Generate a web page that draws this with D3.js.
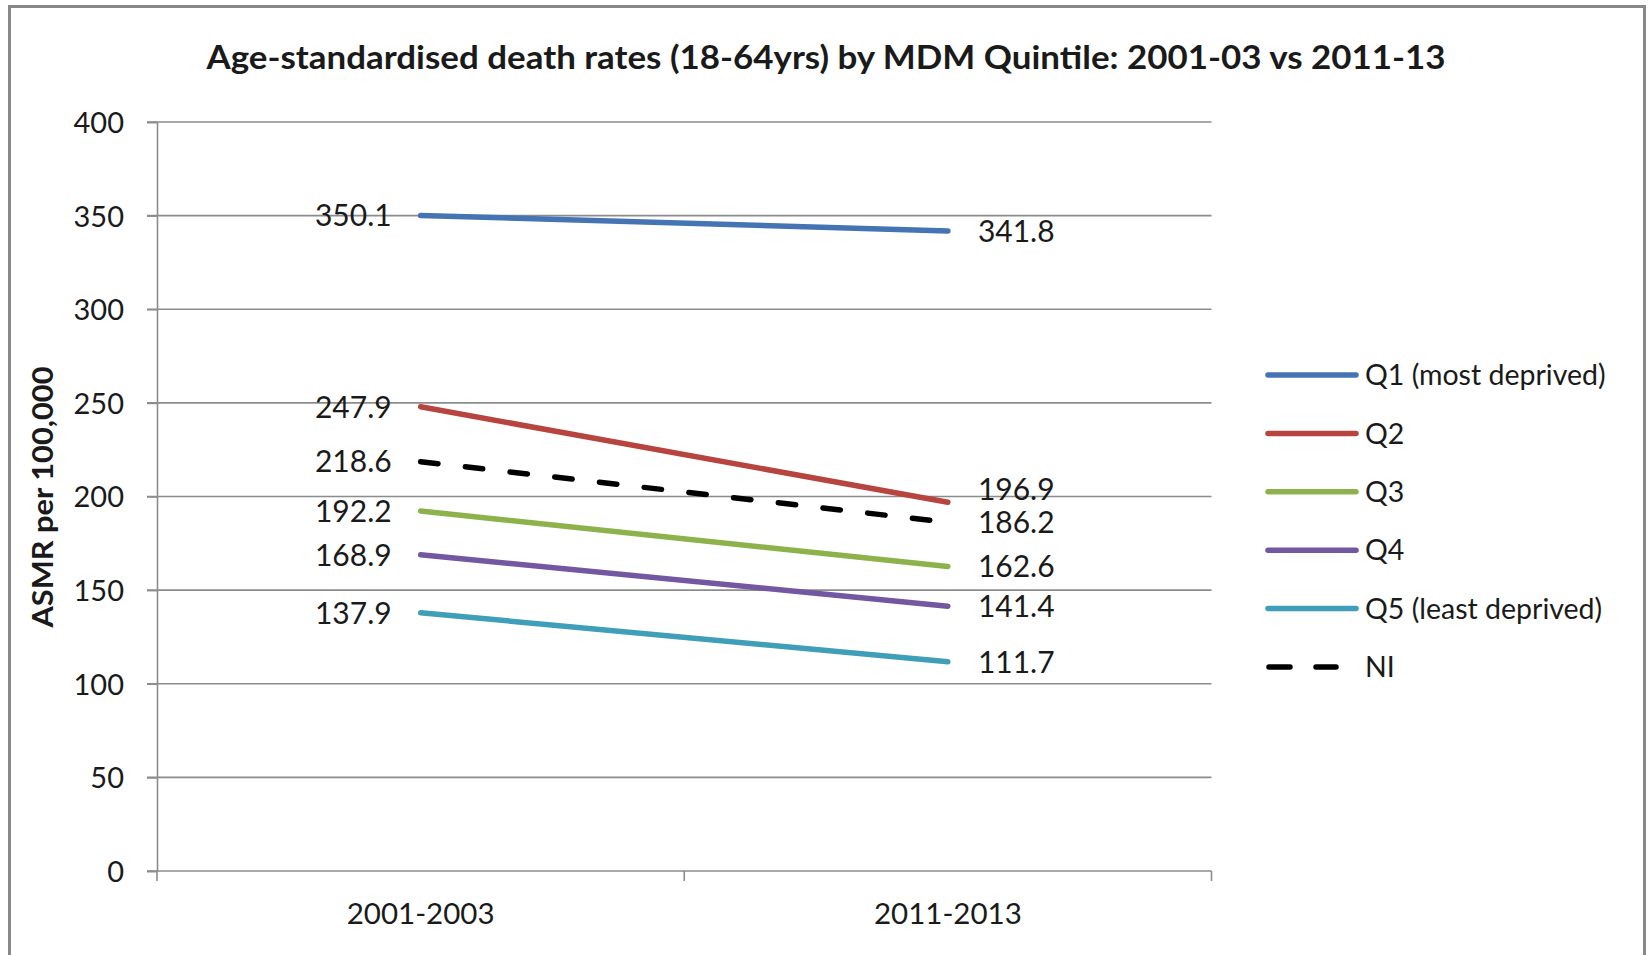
<!DOCTYPE html>
<html>
<head>
<meta charset="utf-8">
<script src="https://cdn.jsdelivr.net/npm/d3@7"></script>
<style>
  html, body { margin: 0; padding: 0; background: #fff; }
  svg { display: block; }
  text { font-family: Lato, "Open Sans", "Liberation Sans", sans-serif; fill: #1a1a1a; }
</style>
</head>
<body>
<svg id="chart" width="1649" height="955"></svg>
<script>
const title = "Age-standardised death rates (18-64yrs) by MDM Quintile: 2001-03 vs 2011-13";
const yAxisTitle = "ASMR per 100,000";
const periods = ["2001-2003", "2011-2013"];
const yTicks = [0, 50, 100, 150, 200, 250, 300, 350, 400];
const seriesNames = ["Q1 (most deprived)", "Q2", "Q3", "Q4", "Q5 (least deprived)", "NI"];
const q1 = [350.1, 341.8];
const q2 = [247.9, 196.9];
const q3 = [192.2, 162.6];
const q4 = [168.9, 141.4];
const q5 = [137.9, 111.7];
const ni = [218.6, 186.2];
const seriesColors = ["#4574B5", "#B7443F", "#8DB24B", "#7457A1", "#3F9EB8", "#000000"];
const seriesDashed = [false, false, false, false, false, true];

const series = [q1, q2, q3, q4, q5, ni].map((vals, i) => ({
  name: seriesNames[i], values: vals, color: seriesColors[i], dashed: seriesDashed[i]
}));

const svg = d3.select("#chart");
const plot = { left: 157, right: 1211.5, top: 122, bottom: 871 };

// outer frame
svg.append("rect")
  .attr("x", 9.5).attr("y", 6.5).attr("width", 1635).attr("height", 1000)
  .attr("fill", "#fff").attr("stroke", "#888").attr("stroke-width", 3);

const x = d3.scaleBand().domain(periods).range([plot.left, plot.right]).padding(0);
const cx = d => x(d) + x.bandwidth() / 2;
const y = d3.scaleLinear().domain([0, 400]).range([plot.bottom, plot.top]);

// gridlines
svg.append("g").selectAll("line").data(yTicks).join("line")
  .attr("x1", plot.left - 10).attr("x2", plot.right)
  .attr("y1", d => y(d)).attr("y2", d => y(d))
  .attr("stroke", "#8c8c8c").attr("stroke-width", 1.6);

// y axis
const yAxis = svg.append("g").attr("transform", `translate(${plot.left},0)`)
  .call(d3.axisLeft(y).tickValues(yTicks).tickSize(10).tickPadding(23).tickFormat(d3.format("d")));
yAxis.select(".domain").attr("stroke", "#8c8c8c").attr("stroke-width", 1.6);
yAxis.selectAll(".tick line").attr("stroke", "#8c8c8c").attr("stroke-width", 1.6);
yAxis.selectAll(".tick text").attr("font-size", 29).attr("fill", "#1a1a1a")
  .style("font-family", "Lato, 'Open Sans', sans-serif").attr("dy", "0.36em");

// x axis
const xAxis = svg.append("g").attr("transform", `translate(0,${plot.bottom})`)
  .call(d3.axisBottom(x).tickSize(0).tickPadding(32));
xAxis.select(".domain").remove();
xAxis.selectAll(".tick text").attr("font-size", 29.5).attr("fill", "#1a1a1a")
  .style("font-family", "Lato, 'Open Sans', sans-serif").attr("dy", "0.71em");
// x tick marks at category boundaries
const boundaries = periods.map(p => x(p)).concat([x(periods[periods.length - 1]) + x.bandwidth()]);
svg.append("g").selectAll("line").data(boundaries).join("line")
  .attr("x1", d => d).attr("x2", d => d)
  .attr("y1", plot.bottom).attr("y2", plot.bottom + 10)
  .attr("stroke", "#8c8c8c").attr("stroke-width", 1.6);

// lines
const line = d3.line().x((d, i) => cx(periods[i])).y(d => y(d));
svg.append("g").selectAll("path").data(series).join("path")
  .attr("d", d => line(d.values))
  .attr("fill", "none")
  .attr("stroke", d => d.color)
  .attr("stroke-width", 5.5)
  .attr("stroke-linecap", "round")
  .attr("stroke-dasharray", d => d.dashed ? "17.5,27.5" : null);

// data labels with simple vertical dodge
function placeLabels(idx, side) {
  const items = series.map(s => ({ v: s.values[idx], y: y(s.values[idx]) }))
    .sort((a, b) => a.y - b.y);
  const minGap = 33;
  for (let i = items.length - 2; i >= 0; i--) {
    if (items[i + 1].y - items[i].y < minGap) items[i].y = items[i + 1].y - minGap;
  }
  const px = cx(periods[idx]);
  svg.append("g").selectAll("text").data(items).join("text")
    .attr("x", side === "left" ? px - 29 : px + 30)
    .attr("y", d => d.y)
    .attr("dy", "0.36em")
    .attr("text-anchor", side === "left" ? "end" : "start")
    .attr("font-size", 30)
    .text(d => d.v.toFixed(1));
}
placeLabels(0, "left");
placeLabels(1, "right");

// title
svg.append("text")
  .attr("x", 826).attr("y", 69)
  .attr("text-anchor", "middle")
  .attr("font-size", 33).attr("font-weight", "bold")
  .attr("textLength", 1239).attr("lengthAdjust", "spacingAndGlyphs")
  .text(title);

// y axis title
svg.append("text")
  .attr("transform", "translate(43,497) rotate(-90)")
  .attr("text-anchor", "middle").attr("dy", "0.36em")
  .attr("font-size", 28).attr("font-weight", "bold")
  .attr("textLength", 261).attr("lengthAdjust", "spacingAndGlyphs")
  .text(yAxisTitle);

// legend
const legendY0 = 375, legendStep = 58.4;
const lg = svg.append("g").selectAll("g").data(series).join("g")
  .attr("transform", (d, i) => `translate(0,${legendY0 + i * legendStep})`);
lg.append("line")
  .attr("x1", d => d.dashed ? 1269 : 1268).attr("x2", d => d.dashed ? 1336 : 1356)
  .attr("y1", 0).attr("y2", 0)
  .attr("stroke", d => d.color).attr("stroke-width", 5.5)
  .attr("stroke-linecap", "round")
  .attr("stroke-dasharray", d => d.dashed ? "21,26" : null);
lg.append("text")
  .attr("x", 1365).attr("y", 0).attr("dy", "0.36em")
  .attr("font-size", 28.5)
  .text(d => d.name);
</script>
</body>
</html>
